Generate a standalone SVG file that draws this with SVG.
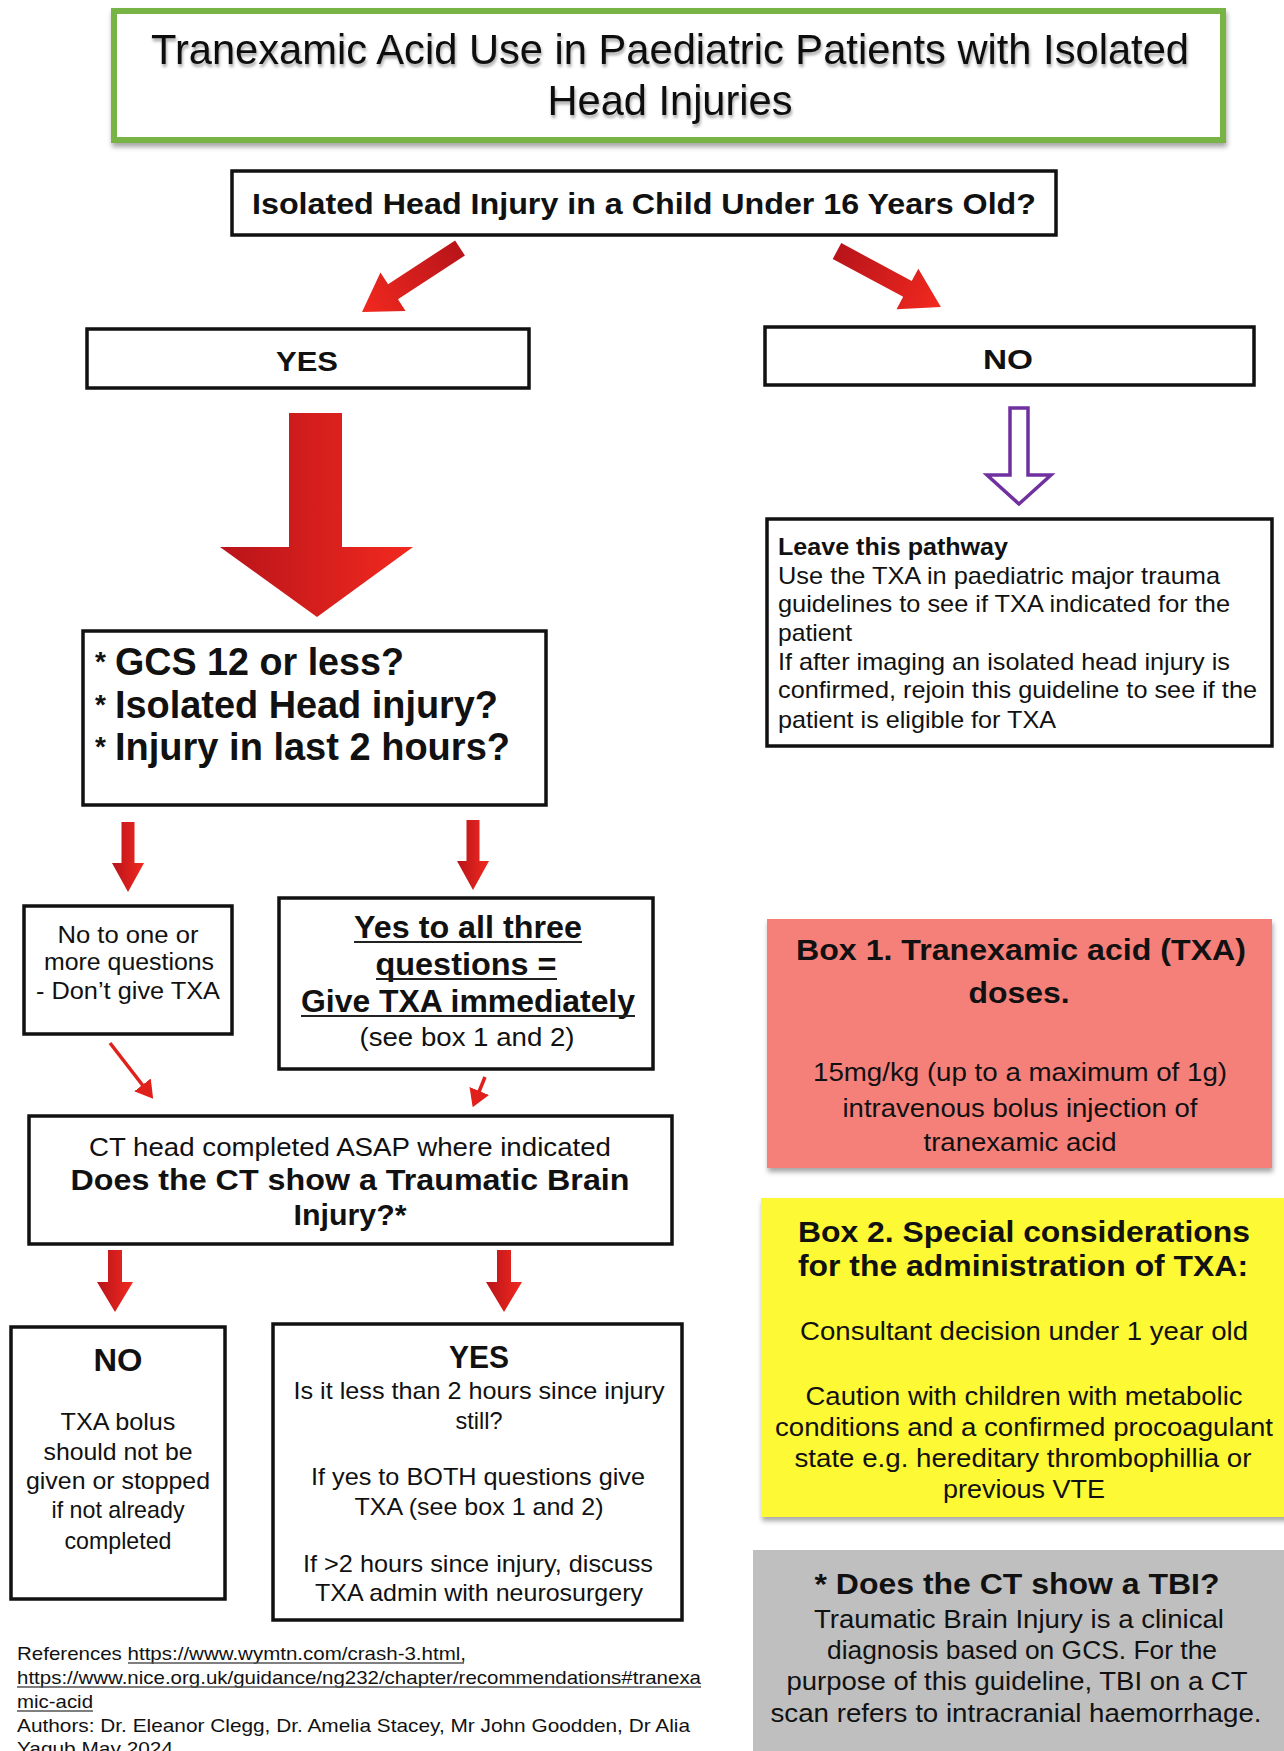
<svg xmlns="http://www.w3.org/2000/svg" width="1284" height="1751" viewBox="0 0 1284 1751">
<defs>
<style>
text{font-family:"Liberation Sans",Arial,Helvetica,sans-serif;fill:#111;}
.b{font-weight:bold;}
.c{text-anchor:middle;}
.box{fill:#fff;stroke:#111;stroke-width:3.5;}
.ul{stroke:#222;stroke-width:2;}
.ulr{stroke:#555;stroke-width:1.3;}
.thin{stroke:#E0201B;stroke-width:3.5;fill:none;}
</style>
<linearGradient id="rg" x1="0" y1="0" x2="1" y2="0">
<stop offset="0" stop-color="#B8141A"/>
<stop offset="1" stop-color="#F2291F"/>
</linearGradient>
<linearGradient id="rgv" x1="0" y1="0" x2="0" y2="1">
<stop offset="0" stop-color="#F2291F"/>
<stop offset="1" stop-color="#C0161B"/>
</linearGradient>
<filter id="sh" x="-5%" y="-10%" width="110%" height="130%">
<feDropShadow dx="1" dy="4" stdDeviation="2.5" flood-color="#000" flood-opacity="0.35"/>
</filter>
<filter id="tsh" x="-5%" y="-20%" width="110%" height="150%">
<feDropShadow dx="1" dy="3" stdDeviation="1.5" flood-color="#000" flood-opacity="0.35"/>
</filter>
<marker id="ah" markerWidth="6" markerHeight="6" refX="4" refY="3" orient="auto" markerUnits="strokeWidth">
<path d="M0,0 L5,3 L0,6 z" fill="#E0201B"/>
</marker>
</defs>
<rect width="1284" height="1751" fill="#fff"/>

<g id="title">
<rect x="114" y="11" width="1109" height="129" fill="#fff" stroke="#78B445" stroke-width="6" filter="url(#sh)"/>
<g filter="url(#tsh)">
<text class="c" x="670" y="64" font-size="42" textLength="1038" lengthAdjust="spacingAndGlyphs">Tranexamic Acid Use in Paediatric Patients with Isolated</text>
<text class="c" x="670" y="115" font-size="42" textLength="245" lengthAdjust="spacingAndGlyphs">Head Injuries</text>
</g>
</g>

<g id="q1">
<rect class="box" x="232" y="171" width="824" height="64"/>
<text class="b c" x="644" y="214" font-size="30" textLength="784" lengthAdjust="spacingAndGlyphs">Isolated Head Injury in a Child Under 16 Years Old?</text>
</g>

<g id="yes1">
<rect class="box" x="87" y="329" width="442" height="59"/>
<text class="b c" x="307" y="371" font-size="27" textLength="62" lengthAdjust="spacingAndGlyphs">YES</text>
</g>

<g id="no1">
<rect class="box" x="765" y="327" width="489" height="58"/>
<text class="b c" x="1008" y="369" font-size="27" textLength="50" lengthAdjust="spacingAndGlyphs">NO</text>
</g>

<g id="leave">
<rect class="box" x="767" y="519" width="505" height="227"/>
<text class="b" x="778" y="555" font-size="23" textLength="230" lengthAdjust="spacingAndGlyphs">Leave this pathway</text>
<text x="778" y="584" font-size="24" textLength="442" lengthAdjust="spacingAndGlyphs">Use the TXA in paediatric major trauma</text>
<text x="778" y="612" font-size="24" textLength="452" lengthAdjust="spacingAndGlyphs">guidelines to see if TXA indicated for the</text>
<text x="778" y="641" font-size="24" textLength="74" lengthAdjust="spacingAndGlyphs">patient</text>
<text x="778" y="670" font-size="24" textLength="452" lengthAdjust="spacingAndGlyphs">If after imaging an isolated head injury is</text>
<text x="778" y="698" font-size="24" textLength="479" lengthAdjust="spacingAndGlyphs">confirmed, rejoin this guideline to see if the</text>
<text x="778" y="728" font-size="24" textLength="278" lengthAdjust="spacingAndGlyphs">patient is eligible for TXA</text>
</g>

<g id="gcs">
<rect class="box" x="83" y="631" width="463" height="174"/>
<text class="b" x="95" y="671" font-size="28">*</text>
<text class="b" x="115" y="675" font-size="38" textLength="289" lengthAdjust="spacingAndGlyphs">GCS 12 or less?</text>
<text class="b" x="95" y="714" font-size="28">*</text>
<text class="b" x="115" y="718" font-size="38" textLength="383" lengthAdjust="spacingAndGlyphs">Isolated Head injury?</text>
<text class="b" x="95" y="756" font-size="28">*</text>
<text class="b" x="115" y="760" font-size="38" textLength="395" lengthAdjust="spacingAndGlyphs">Injury in last 2 hours?</text>
</g>

<g id="notxa">
<rect class="box" x="24" y="906" width="208" height="128"/>
<text class="c" x="128" y="943" font-size="23" textLength="141" lengthAdjust="spacingAndGlyphs">No to one or</text>
<text class="c" x="129" y="970" font-size="23" textLength="170" lengthAdjust="spacingAndGlyphs">more questions</text>
<text class="c" x="128" y="999" font-size="23" textLength="184" lengthAdjust="spacingAndGlyphs">- Don’t give TXA</text>
</g>

<g id="givetxa">
<rect class="box" x="279" y="898" width="374" height="171"/>
<text class="b c" x="468" y="938" font-size="31" textLength="228" lengthAdjust="spacingAndGlyphs">Yes to all three</text>
<line class="ul" x1="354" y1="942" x2="582" y2="942"/>
<text class="b c" x="466" y="975" font-size="31" textLength="181" lengthAdjust="spacingAndGlyphs">questions =</text>
<line class="ul" x1="376" y1="979" x2="557" y2="979"/>
<text class="b c" x="468" y="1012" font-size="31" textLength="334" lengthAdjust="spacingAndGlyphs">Give TXA immediately</text>
<line class="ul" x1="301" y1="1016" x2="635" y2="1016"/>
<text class="c" x="467" y="1046" font-size="25" textLength="215" lengthAdjust="spacingAndGlyphs">(see box 1 and 2)</text>
</g>

<g id="ct">
<rect class="box" x="29" y="1116" width="643" height="128"/>
<text class="c" x="350" y="1156" font-size="25" textLength="522" lengthAdjust="spacingAndGlyphs">CT head completed ASAP where indicated</text>
<text class="b c" x="350" y="1190" font-size="29" textLength="559" lengthAdjust="spacingAndGlyphs">Does the CT show a Traumatic Brain</text>
<text class="b c" x="350" y="1225" font-size="29" textLength="113" lengthAdjust="spacingAndGlyphs">Injury?*</text>
</g>

<g id="no2">
<rect class="box" x="11" y="1327" width="214" height="272"/>
<text class="b c" x="118" y="1371" font-size="31" textLength="49" lengthAdjust="spacingAndGlyphs">NO</text>
<text class="c" x="118" y="1430" font-size="24" textLength="115" lengthAdjust="spacingAndGlyphs">TXA bolus</text>
<text class="c" x="118" y="1460" font-size="24" textLength="149" lengthAdjust="spacingAndGlyphs">should not be</text>
<text class="c" x="118" y="1489" font-size="24" textLength="184" lengthAdjust="spacingAndGlyphs">given or stopped</text>
<text class="c" x="118" y="1518" font-size="24" textLength="133" lengthAdjust="spacingAndGlyphs">if not already</text>
<text class="c" x="118" y="1549" font-size="24" textLength="107" lengthAdjust="spacingAndGlyphs">completed</text>
</g>

<g id="yes2">
<rect class="box" x="273" y="1324" width="409" height="296"/>
<text class="b c" x="479" y="1368" font-size="31" textLength="60" lengthAdjust="spacingAndGlyphs">YES</text>
<text class="c" x="479" y="1399" font-size="24" textLength="371" lengthAdjust="spacingAndGlyphs">Is it less than 2 hours since injury</text>
<text class="c" x="479" y="1429" font-size="24" textLength="47" lengthAdjust="spacingAndGlyphs">still?</text>
<text class="c" x="478" y="1485" font-size="24" textLength="334" lengthAdjust="spacingAndGlyphs">If yes to BOTH questions give</text>
<text class="c" x="479" y="1515" font-size="24" textLength="249" lengthAdjust="spacingAndGlyphs">TXA (see box 1 and 2)</text>
<text class="c" x="478" y="1572" font-size="24" textLength="350" lengthAdjust="spacingAndGlyphs">If &gt;2 hours since injury, discuss</text>
<text class="c" x="479" y="1601" font-size="24" textLength="328" lengthAdjust="spacingAndGlyphs">TXA admin with neurosurgery</text>
</g>

<g id="refs">
<text x="17" y="1660" font-size="19" textLength="449" lengthAdjust="spacingAndGlyphs">References https://www.wymtn.com/crash-3.html,</text>
<line class="ulr" x1="128" y1="1663" x2="464" y2="1663"/>
<text x="17" y="1684" font-size="19" textLength="684" lengthAdjust="spacingAndGlyphs">https://www.nice.org.uk/guidance/ng232/chapter/recommendations#tranexa</text>
<line class="ulr" x1="17" y1="1687" x2="701" y2="1687"/>
<text x="17" y="1708" font-size="19" textLength="76" lengthAdjust="spacingAndGlyphs">mic-acid</text>
<line class="ulr" x1="17" y1="1711" x2="93" y2="1711"/>
<text x="17" y="1732" font-size="19" textLength="673" lengthAdjust="spacingAndGlyphs">Authors: Dr. Eleanor Clegg, Dr. Amelia Stacey, Mr John Goodden, Dr Alia</text>
<text x="17" y="1755" font-size="19" textLength="156" lengthAdjust="spacingAndGlyphs">Yaqub May 2024</text>
</g>

<g id="box1">
<rect x="767" y="919" width="505" height="249" fill="#F5807A" filter="url(#sh)"/>
<text class="b c" x="1021" y="960" font-size="30" textLength="450" lengthAdjust="spacingAndGlyphs">Box 1. Tranexamic acid (TXA)</text>
<text class="b c" x="1019" y="1003" font-size="30" textLength="101" lengthAdjust="spacingAndGlyphs">doses.</text>
<text class="c" x="1020" y="1081" font-size="26" textLength="414" lengthAdjust="spacingAndGlyphs">15mg/kg (up to a maximum of 1g)</text>
<text class="c" x="1020" y="1117" font-size="26" textLength="355" lengthAdjust="spacingAndGlyphs">intravenous bolus injection of</text>
<text class="c" x="1020" y="1151" font-size="26" textLength="193" lengthAdjust="spacingAndGlyphs">tranexamic acid</text>
</g>

<g id="box2">
<rect x="761" y="1198" width="530" height="319" fill="#FEF935" filter="url(#sh)"/>
<text class="b c" x="1024" y="1242" font-size="30" textLength="452" lengthAdjust="spacingAndGlyphs">Box 2. Special considerations</text>
<text class="b c" x="1023" y="1276" font-size="30" textLength="450" lengthAdjust="spacingAndGlyphs">for the administration of TXA:</text>
<text class="c" x="1024" y="1340" font-size="25" textLength="448" lengthAdjust="spacingAndGlyphs">Consultant decision under 1 year old</text>
<text class="c" x="1024" y="1405" font-size="25" textLength="437" lengthAdjust="spacingAndGlyphs">Caution with children with metabolic</text>
<text class="c" x="1024" y="1436" font-size="25" textLength="498" lengthAdjust="spacingAndGlyphs">conditions and a confirmed procoagulant</text>
<text class="c" x="1023" y="1467" font-size="25" textLength="457" lengthAdjust="spacingAndGlyphs">state e.g. hereditary thrombophillia or</text>
<text class="c" x="1024" y="1498" font-size="25" textLength="162" lengthAdjust="spacingAndGlyphs">previous VTE</text>
</g>

<g id="tbi">
<rect x="753" y="1550" width="540" height="210" fill="#BFBFBF"/>
<text class="b c" x="1017" y="1594" font-size="29" textLength="405" lengthAdjust="spacingAndGlyphs">* Does the CT show a TBI?</text>
<text class="c" x="1019" y="1628" font-size="26" textLength="410" lengthAdjust="spacingAndGlyphs">Traumatic Brain Injury is a clinical</text>
<text class="c" x="1022" y="1659" font-size="26" textLength="390" lengthAdjust="spacingAndGlyphs">diagnosis based on GCS. For the</text>
<text class="c" x="1017" y="1690" font-size="26" textLength="461" lengthAdjust="spacingAndGlyphs">purpose of this guideline, TBI on a CT</text>
<text class="c" x="1016" y="1722" font-size="26" textLength="491" lengthAdjust="spacingAndGlyphs">scan refers to intracranial haemorrhage.</text>
</g>

<g id="connectors">
<polygon transform="translate(460,248) rotate(146.85)" points="0,-9 80,-9 80,-23 117,0 80,23 80,9 0,9" fill="url(#rg)"/>
<polygon transform="translate(837,251) rotate(28.3)" points="0,-9 80,-9 80,-23 118,0 80,23 80,9 0,9" fill="url(#rg)"/>
<polygon points="289,413 342,413 342,547 413,547 317,617 220,547 289,547" fill="url(#rg)"/>
<polygon points="1010,408 1028,408 1028,475 1051,475 1019,504 987,475 1010,475" fill="#fff" stroke="#7030A0" stroke-width="3.5" stroke-linejoin="miter"/>
<polygon points="121.5,822 134.5,822 134.5,863 144,863 128,892 112,863 121.5,863" fill="url(#rg)"/>
<polygon points="466.5,820 479.5,820 479.5,861 489,861 473,890 457,861 466.5,861" fill="url(#rg)"/>
<line class="thin" x1="110" y1="1043" x2="151" y2="1096" marker-end="url(#ah)"/>
<line class="thin" x1="485" y1="1077" x2="474" y2="1104" marker-end="url(#ah)"/>
<polygon points="108,1250 122,1250 122,1282 133,1282 115,1312 97,1282 108,1282" fill="url(#rg)"/>
<polygon points="497,1250 511,1250 511,1282 522,1282 504,1312 486,1282 497,1282" fill="url(#rg)"/>
</g>
</svg>
